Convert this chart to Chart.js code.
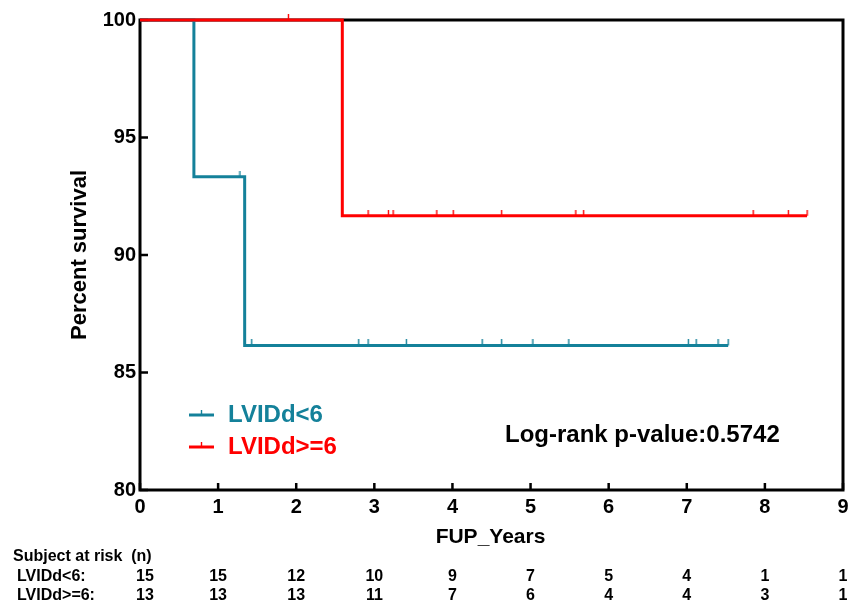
<!DOCTYPE html>
<html>
<head>
<meta charset="utf-8">
<script src="https://cdn.jsdelivr.net/npm/chart.js@4/dist/chart.umd.min.js"></script>
<style>
  body { margin: 0; background: #fff; }
  canvas { display: block; }
</style>
</head>
<body>
<canvas id="kmChart" width="850" height="609"></canvas>
<script>
// groups
const groupNames = ['LVIDd<6', 'LVIDd>=6'];
const groupColors = ['#14819a', '#ff0000'];

// LVIDd<6 steps and censored times (years)
const lowStepTimes = [0, 0.69, 1.34, 7.53];
const lowStepSurvival = [100, 93.33, 86.15, 86.15];
const lowCensorTimes = [1.28, 1.43, 2.80, 2.92, 3.41, 4.38, 4.63, 5.03, 5.49, 7.02, 7.12, 7.40, 7.53];

// LVIDd>=6 steps and censored times (years)
const highStepTimes = [0, 2.59, 8.54];
const highStepSurvival = [100, 91.67, 91.67];
const highCensorTimes = [1.90, 2.92, 3.18, 3.24, 3.80, 4.01, 4.63, 5.58, 5.68, 7.85, 8.30, 8.54];

// axis ticks
const yearTicks = [0, 1, 2, 3, 4, 5, 6, 7, 8, 9];
const survivalTicks = [80, 85, 90, 95, 100];

// subjects at risk
const riskLow = [15, 15, 12, 10, 9, 7, 5, 4, 1, 1];
const riskHigh = [13, 13, 13, 11, 7, 6, 4, 4, 3, 1];

const pValueText = 'Log-rank p-value:0.5742';
const fontFamily = "'Liberation Sans', Arial, sans-serif";

function stepPoints(times, surv) {
    return times.map((t, i) => ({ x: t, y: surv[i] }));
}

// survival level of the curve at a censored time
function levelAt(times, surv, t) {
    let level = surv[0];
    for (let i = 0; i < times.length; i++) {
        if (times[i] <= t) level = surv[i];
    }
    return level;
}

function censorPoints(cTimes, times, surv) {
    return cTimes.map(t => ({ x: t, y: levelAt(times, surv, t) }));
}

// small vertical tick drawn above the line
function makeTick(color) {
    const c = document.createElement('canvas');
    c.width = 3;
    c.height = 12;
    const g = c.getContext('2d');
    g.strokeStyle = color;
    g.lineWidth = 1.4;
    g.beginPath();
    g.moveTo(1.5, 0);
    g.lineTo(1.5, 6);
    g.stroke();
    return c;
}

const frameAndTicks = {
    id: 'frameAndTicks',
    beforeDatasetsDraw(chart) {
        const { ctx, chartArea, scales } = chart;
        ctx.save();
        ctx.strokeStyle = '#000';
        ctx.lineWidth = 3;
        ctx.strokeRect(chartArea.left, chartArea.top, chartArea.right - chartArea.left, chartArea.bottom - chartArea.top);
        ctx.lineWidth = 2.5;
        ctx.beginPath();
        yearTicks.forEach(v => {
            const x = scales.x.getPixelForValue(v);
            ctx.moveTo(x, chartArea.bottom);
            ctx.lineTo(x, chartArea.bottom - 7);
        });
        survivalTicks.forEach(v => {
            const y = scales.y.getPixelForValue(v);
            ctx.moveTo(chartArea.left, y);
            ctx.lineTo(chartArea.left + 8, y);
        });
        ctx.stroke();
        ctx.restore();
    }
};

const annotations = {
    id: 'annotations',
    afterDraw(chart) {
        const { ctx, chartArea, scales } = chart;
        ctx.save();
        ctx.fillStyle = '#000';
        ctx.textBaseline = 'middle';

        // axis titles
        ctx.font = 'bold 21px ' + fontFamily;
        ctx.textAlign = 'center';
        ctx.fillText('FUP_Years', (chartArea.left + chartArea.right) / 2 - 1, 537);
        ctx.save();
        ctx.translate(80, (chartArea.top + chartArea.bottom) / 2);
        ctx.rotate(-Math.PI / 2);
        ctx.font = 'bold 22px ' + fontFamily;
        ctx.fillText('Percent survival', 0, 0);
        ctx.restore();

        // legend
        const legendY = [415, 447];
        groupNames.forEach((name, i) => {
            ctx.strokeStyle = groupColors[i];
            ctx.lineWidth = 3;
            ctx.beginPath();
            ctx.moveTo(189, legendY[i]);
            ctx.lineTo(214, legendY[i]);
            ctx.stroke();
            ctx.lineWidth = 1.4;
            ctx.beginPath();
            ctx.moveTo(201.5, legendY[i]);
            ctx.lineTo(201.5, legendY[i] - 5);
            ctx.stroke();
            ctx.fillStyle = groupColors[i];
            ctx.font = 'bold 24px ' + fontFamily;
            ctx.textAlign = 'left';
            ctx.fillText(name, 228, legendY[i]);
        });

        // p-value
        ctx.fillStyle = '#000';
        ctx.font = 'bold 24px ' + fontFamily;
        ctx.textAlign = 'left';
        ctx.fillText(pValueText, 505, 435);

        // risk table
        ctx.font = 'bold 16px ' + fontFamily;
        ctx.fillText('Subject at risk  (n)', 13, 557);
        ctx.fillText(groupNames[0] + ':', 17, 577);
        ctx.fillText(groupNames[1] + ':', 17, 596);
        ctx.textAlign = 'center';
        yearTicks.forEach((v, i) => {
            const x = scales.x.getPixelForValue(v) + (i === 0 ? 5 : 0);
            ctx.fillText(String(riskLow[i]), x, 577);
            ctx.fillText(String(riskHigh[i]), x, 596);
        });
        ctx.restore();
    }
};

const ctx = document.getElementById('kmChart').getContext('2d');
new Chart(ctx, {
    type: 'line',
    data: {
        datasets: [{
            label: groupNames[1],
            data: stepPoints(highStepTimes, highStepSurvival),
            borderColor: groupColors[1],
            borderWidth: 3,
            stepped: 'before',
            pointRadius: 0,
            clip: false,
            order: 1
        }, {
            label: groupNames[0],
            data: stepPoints(lowStepTimes, lowStepSurvival),
            borderColor: groupColors[0],
            borderWidth: 3,
            stepped: 'before',
            pointRadius: 0,
            clip: false,
            order: 3
        }, {
            label: groupNames[1] + ' censored',
            type: 'scatter',
            data: censorPoints(highCensorTimes, highStepTimes, highStepSurvival),
            pointStyle: makeTick(groupColors[1]),
            clip: false,
            order: 0
        }, {
            label: groupNames[0] + ' censored',
            type: 'scatter',
            data: censorPoints(lowCensorTimes, lowStepTimes, lowStepSurvival),
            pointStyle: makeTick(groupColors[0]),
            clip: false,
            order: 2
        }]
    },
    options: {
        responsive: false,
        animation: false,
        devicePixelRatio: 1,
        layout: { padding: { top: 20, right: 7, left: 0, bottom: 0 } },
        plugins: {
            legend: { display: false },
            tooltip: { enabled: false }
        },
        scales: {
            x: {
                type: 'linear',
                min: 0,
                max: 9,
                grid: { display: false, drawTicks: false },
                border: { display: false },
                afterFit: function(scale) {
                    scale.height = 119;
                    scale.paddingLeft = 0;
                    scale.paddingRight = 0;
                },
                afterBuildTicks: function(scale) {
                    scale.ticks = yearTicks.map(v => ({ value: v }));
                },
                ticks: {
                    color: '#000',
                    padding: 5,
                    maxRotation: 0,
                    font: { family: fontFamily, size: 20, weight: 'bold' }
                }
            },
            y: {
                min: 80,
                max: 100,
                grid: { display: false, drawTicks: false },
                border: { display: false },
                afterFit: function(scale) { scale.width = 140; },
                afterBuildTicks: function(scale) {
                    scale.ticks = survivalTicks.map(v => ({ value: v }));
                },
                ticks: {
                    color: '#000',
                    padding: 4,
                    font: { family: fontFamily, size: 20, weight: 'bold' }
                }
            }
        }
    },
    plugins: [frameAndTicks, annotations]
});
</script>
</body>
</html>
